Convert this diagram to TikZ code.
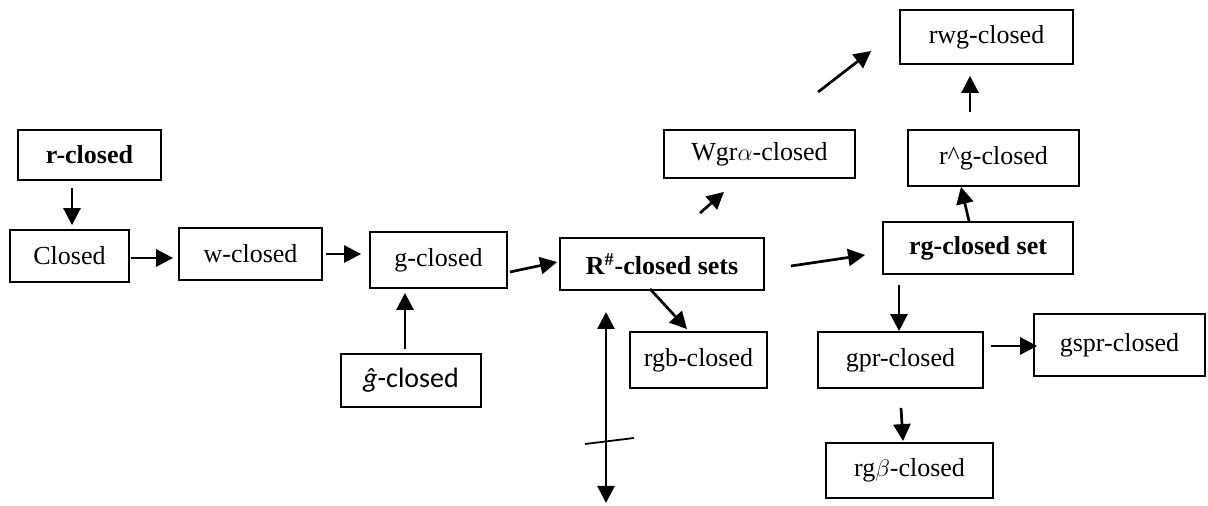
\documentclass[tikz,border=0pt]{standalone}
\usepackage{fontspec}
\setmainfont{Liberation Serif}
\newfontfamily\calibri{Carlito}
\usetikzlibrary{arrows.meta}

\tikzset{
  box/.style={draw, line width=0.9pt, inner sep=0pt, font=\fontsize{13}{15}\selectfont},
  arr/.style={line width=1.35pt, -{Triangle[length=8.5pt,width=8.5pt]}},
  darr/.style={line width=1.35pt, {Triangle[length=8.5pt,width=8.5pt]}-{Triangle[length=8.5pt,width=8.5pt]}}
}

\begin{document}
\begin{tikzpicture}[x=0.5pt, y=-0.5pt]
	% 画布大小（与原图像素一致，y 向下）
	\useasboundingbox (0,0) rectangle (1208,506);

	% 左侧方框
	\node[box, minimum width=71.5pt, minimum height=25pt] (rclosed) at (89.5,155) {\textbf{r-closed}};
	\node[box, minimum width=59.5pt, minimum height=26pt] (closed) at (69.5,256) {Closed};
	\node[box, minimum width=71.5pt, minimum height=26pt] (wclosed) at (250.5,254) {w-closed};
	\node[box, minimum width=68.5pt, minimum height=28pt] (gclosed) at (438.5,260) {g-closed};
	\node[box, minimum width=70pt, minimum height=26.5pt] (ghat) at (411,380.5) {\calibri\fontsize{14}{16}\selectfont\itshape\^{g}\upshape-closed};

	% 中间方框
	\node[box, minimum width=102pt, minimum height=26pt] (rsharp) at (662,264) {\textbf{R\textsuperscript{\#}-closed sets}};
	\node[box, minimum width=68.5pt, minimum height=28pt] (rgb) at (698.5,360) {rgb-closed};
	\node[box, minimum width=95.5pt, minimum height=24pt] (wgr) at (759.5,154) {Wgr$\alpha$-closed};

	% 右侧方框
	\node[box, minimum width=86.5pt, minimum height=27pt] (rwg) at (986.5,37) {rwg-closed};
	\node[box, minimum width=85.5pt, minimum height=28pt] (rhatg) at (993.5,158) {r\textasciicircum g-closed};
	\node[box, minimum width=95pt, minimum height=26pt] (rgset) at (978,248) {\textbf{rg-closed set}};
	\node[box, minimum width=82.5pt, minimum height=28pt] (gpr) at (900.5,360) {gpr-closed};
	\node[box, minimum width=85.5pt, minimum height=31pt] (gspr) at (1119.5,345) {gspr-closed};
	\node[box, minimum width=83.5pt, minimum height=27.5pt] (rgbeta) at (909.5,470.5) {rg$\beta$-closed};

	% 箭头
	\draw[arr] ([shift={(-17.5,7)}]rclosed.south) -- ([shift={(2.5,-4)}]closed.north);
	\draw[arr] ([shift={(1,2)}]closed.east) -- ([shift={(-5,4)}]wclosed.west);
	\draw[arr] ([shift={(3,0)}]wclosed.east) -- ([shift={(-8,-6)}]gclosed.west);
	\draw[arr] ([shift={(-6,-4)}]ghat.north) -- ([shift={(-33.5,4)}]gclosed.south);
	\draw[arr] ([shift={(2,12)}]gclosed.east) -- ([shift={(-2,-2)}]rsharp.west);
	\draw[arr] ([shift={(-12,-2)}]rsharp.south) -- ([shift={(-11.5,-2)}]rgb.north);
	\draw[arr] ([shift={(38,-24)}]rsharp.north) -- ([shift={(-35.5,13)}]wgr.south);
	\draw[arr] ([shift={(58.5,-37)}]wgr.north) -- ([shift={(-28,14)}]rwg.west);
	\draw[arr] ([shift={(26,2)}]rsharp.east) -- ([shift={(-17,7)}]rgset.west);
	\draw[arr] ([shift={(-9,0)}]rgset.north) -- ([shift={(-32.5,0)}]rhatg.south);
	\draw[arr] ([shift={(-23.5,-17)}]rhatg.north) -- ([shift={(-16.5,11)}]rwg.south);
	\draw[arr] ([shift={(-79,10)}]rgset.south) -- ([shift={(-1.5,0)}]gpr.north);
	\draw[arr] ([shift={(7,-14)}]gpr.east) -- ([shift={(4,1)}]gspr.west);
	\draw[arr] ([shift={(0.5,19)}]gpr.south) -- ([shift={(-6.5,-1)}]rgbeta.north);

	% 双向箭头（带斜线）
	\coordinate (dtop) at (606,312);
	\coordinate (dbot) at (606,503);
	\draw[darr] (dtop) -- (dbot);
	\draw[line width=0.9pt] (585,444) -- (634,438);
\end{tikzpicture}
\end{document}
